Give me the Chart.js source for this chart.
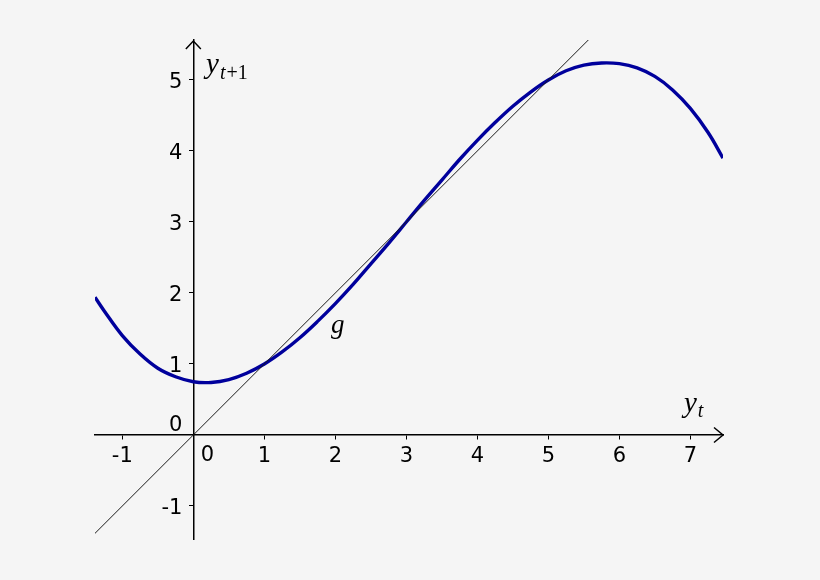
<!DOCTYPE html>
<html>
<head>
<meta charset="utf-8">
<script src="https://cdn.jsdelivr.net/npm/chart.js@4.4.1/dist/chart.umd.min.js"></script>
<style>
  html, body { margin: 0; padding: 0; background: #f5f5f5; }
  #wrap { width: 820px; height: 580px; }
</style>
</head>
<body>
<div id="wrap"><canvas id="chart"></canvas></div>
<script>
// tick labels on both axes
const xTicks = [-1, 0, 1, 2, 3, 4, 5, 6, 7];
const yTicks = [-1, 0, 1, 2, 3, 4, 5];

// the function g
const gX = [-1.385, -1.25, -1, -0.75, -0.5, -0.25, 0, 0.25, 0.5, 0.75, 1, 1.25, 1.5, 1.75, 2, 2.25, 2.5, 2.75, 3,
            3.25, 3.5, 3.75, 4, 4.25, 4.5, 4.75, 5, 5.25, 5.5, 5.75, 6, 6.25, 6.5, 6.75, 7, 7.25, 7.46];
const gY = [1.94, 1.74, 1.40, 1.14, 0.94, 0.82, 0.75, 0.74, 0.78, 0.87, 1.00, 1.17, 1.37, 1.60, 1.85, 2.12, 2.41, 2.70, 3.00,
            3.30, 3.59, 3.88, 4.15, 4.40, 4.63, 4.83, 5.00, 5.13, 5.21, 5.24, 5.23, 5.17, 5.05, 4.86, 4.60, 4.26, 3.90];

// the line y = x
const diagX = [-1.6, 5.8];
const diagY = [-1.6, 5.8];

const tickFont = { family: 'DejaVu Sans', size: 21 };

function toPoints(xs, ys) {
    return xs.map((x, i) => ({ x: x, y: ys[i] }));
}

// arrows, y tick labels, the two zero labels and the math labels
const axisExtras = {
    id: 'axisExtras',
    beforeDraw(chart) {
        const ctx = chart.ctx;
        ctx.save();
        ctx.fillStyle = '#f5f5f5';
        ctx.fillRect(0, 0, chart.width, chart.height);
        ctx.restore();
    },
    afterDraw(chart) {
        const ctx = chart.ctx;
        const xs = chart.scales.x;
        const ys = chart.scales.y;
        const ox = xs.getPixelForValue(0);
        const oy = ys.getPixelForValue(0);
        const area = chart.chartArea;

        ctx.save();
        ctx.strokeStyle = '#000';
        ctx.lineWidth = 1.5;
        ctx.beginPath();
        ctx.moveTo(area.right - 9, oy - 7.5);
        ctx.lineTo(area.right, oy);
        ctx.lineTo(area.right - 9, oy + 7.5);
        ctx.moveTo(ox - 7.5, area.top + 9);
        ctx.lineTo(ox, area.top + 1);
        ctx.lineTo(ox + 7.5, area.top + 9);
        ctx.stroke();

        ctx.fillStyle = '#000';
        ctx.font = tickFont.size + 'px "' + tickFont.family + '"';
        ctx.textAlign = 'right';
        ctx.textBaseline = 'middle';
        yTicks.forEach(v => {
            if (v !== 0) ctx.fillText(String(v), ox - 11, ys.getPixelForValue(v) + 3);
        });
        ctx.fillText('0', ox - 11, oy - 9);
        ctx.textAlign = 'center';
        ctx.fillText('0', ox + 14, oy + 21);

        ctx.textAlign = 'left';
        ctx.textBaseline = 'alphabetic';
        drawMath(ctx, xs.getPixelForValue(1.94), ys.getPixelForValue(1.44), [['g', 'italic 27px', 0]]);
        drawMath(ctx, xs.getPixelForValue(6.91), ys.getPixelForValue(0.32), [['y', 'italic 29px', 0], ['t', 'italic 20px', 5]]);
        drawMath(ctx, xs.getPixelForValue(0.18), ys.getPixelForValue(5.10), [['y', 'italic 29px', 0], ['t', 'italic 20px', 6], ['+1', '20px', 6]]);
        ctx.restore();
    }
};

function drawMath(ctx, x, y, parts) {
    parts.forEach(p => {
        ctx.font = p[1] + ' "Liberation Serif"';
        ctx.fillText(p[0], x, y + p[2]);
        x += ctx.measureText(p[0]).width + 1;
    });
}

new Chart(document.getElementById('chart'), {
    type: 'line',
    data: {
        datasets: [
            {
                label: 'y = x',
                data: toPoints(diagX, diagY),
                borderColor: '#1a1a1a',
                borderWidth: 1,
                pointRadius: 0,
                fill: false
            },
            {
                label: 'g',
                data: toPoints(gX, gY),
                borderColor: '#00009c',
                borderWidth: 3.4,
                pointRadius: 0,
                tension: 0.4,
                fill: false
            }
        ]
    },
    options: {
        responsive: true,
        maintainAspectRatio: false,
        animation: false,
        layout: {
            padding: { left: 95, right: 97, top: 40, bottom: 41 }
        },
        plugins: {
            legend: { display: false },
            tooltip: { enabled: false }
        },
        scales: {
            x: {
                type: 'linear',
                min: -1.385,
                max: 7.46,
                position: { y: 0 },
                afterBuildTicks: (s) => { s.ticks = xTicks.map(v => ({ value: v })); },
                grid: { display: true, drawOnChartArea: false, drawTicks: true, tickLength: 4, color: '#000', lineWidth: 1 },
                border: { display: true, color: '#000', width: 1.5 },
                ticks: {
                    autoSkip: false,
                    maxRotation: 0,
                    padding: 5,
                    color: '#000',
                    font: tickFont,
                    callback: (v) => v === 0 ? '' : String(v)
                }
            },
            y: {
                type: 'linear',
                min: -1.465,
                max: 5.563,
                position: { x: 0 },
                afterBuildTicks: (s) => { s.ticks = yTicks.map(v => ({ value: v })); },
                grid: { display: true, drawOnChartArea: false, drawTicks: true, tickLength: 4, color: '#000', lineWidth: 1 },
                border: { display: true, color: '#000', width: 1.5 },
                ticks: { display: false }
            }
        }
    },
    plugins: [axisExtras]
});
</script>
</body>
</html>
